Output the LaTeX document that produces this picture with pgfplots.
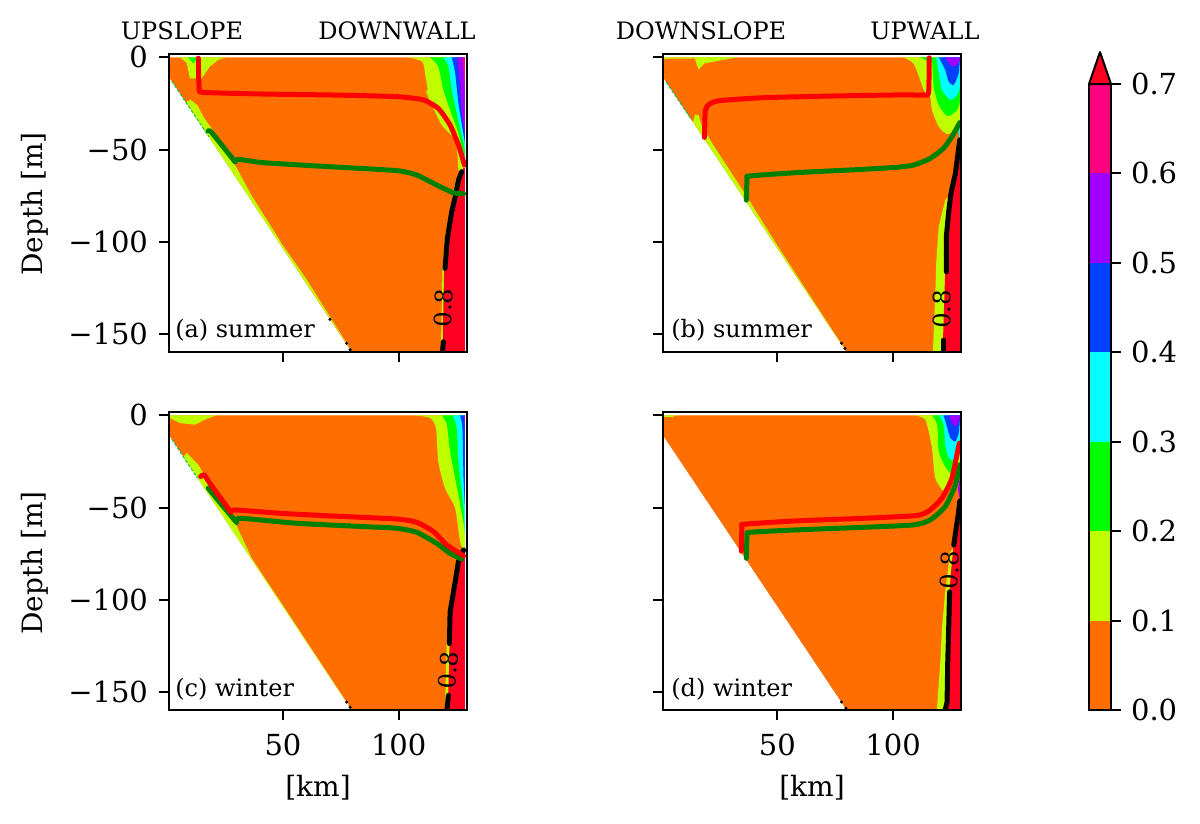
\documentclass[border=0pt]{standalone}
\usepackage{fontspec}
\setmainfont{DejaVu Serif}
\usepackage{pgfplots}
\pgfplotsset{compat=1.18}

\definecolor{c0}{HTML}{FF6E00}
\definecolor{c1}{HTML}{BFFF00}
\definecolor{c2}{HTML}{00FF00}
\definecolor{c3}{HTML}{00FFFF}
\definecolor{c4}{HTML}{0040FF}
\definecolor{c5}{HTML}{A000FF}
\definecolor{c6}{HTML}{FF0080}
\definecolor{c7}{HTML}{FF0020}
\definecolor{mld}{HTML}{FF0000}
\definecolor{bld}{HTML}{008000}

\newcommand{\tickfont}{\fontsize{14.5}{17}\selectfont}
\newcommand{\labfont}{\fontsize{14}{17}\selectfont}
\newcommand{\notefont}{\fontsize{12}{14}\selectfont}

\tikzset{note/.style={font=\notefont, anchor=base west, inner sep=0pt}}
\pgfplotsset{
  panel/.style={
    scale only axis, width=149pt, height=149pt, anchor=south west,
    xmin=0.75, xmax=129.5, ymin=-159.7, ymax=1.8,
    axis on top, axis line style={line width=1pt},
    tick style={line width=1pt, black}, major tick length=5pt, tick align=outside,
    xtick={50,100}, ytick={-150,-100,-50,0},
    xtick pos=bottom, ytick pos=left,
    tick label style={font=\tickfont},
    xticklabel shift=3.5pt, yticklabel shift=2pt,
    xticklabels={}, yticklabels={},
  },
  xlab/.style={xticklabels={50,100}},
  ylab/.style={yticklabels={−150,−100,−50,0}},
  area/.style={draw=none, fill=#1, forget plot},
  band/.style={draw=none, fill=#1, forget plot, smooth, tension=0.4},
  mline/.style={line width=2.5pt, color=mld, line join=round, line cap=round, smooth, tension=0.35},
  bline/.style={line width=2.5pt, color=bld, line join=round, line cap=round, smooth, tension=0.35},
  cont/.style={line width=2.5pt, color=black, line join=round, line cap=round},
  speck/.style={only marks, mark=*, mark size=0.55pt, color=black},
  edge/.style={line width=0.5pt, color=c2!70!c4, dashed, dash pattern=on 1.5pt off 1pt},
}
% white strip above the surface and behind the wall
\newcommand{\maskedges}[1]{%
  \addplot[area=white] coordinates {(0.75,0)(129.5,0)(129.5,1.8)(0.75,1.8)} -- cycle;
  \addplot[area=white] coordinates {(#1,1.8)(129.5,1.8)(129.5,-159.7)(#1,-159.7)} -- cycle;
}

\begin{document}
\begin{tikzpicture}
\useasboundingbox (0pt,0pt) rectangle (600pt,412pt);

% (a)
\begin{axis}[panel, ylab, at={(84.5pt,236pt)}]
\addplot[area=c0] coordinates {(1.15,0)(128.7,0)(128.7,-159.7)(79.7,-159.7)(1.15,-11.4)} -- cycle;
\addplot[area=c1] coordinates {(5.5,0)(8.4,-3)(9.8,-11.4)(14.8,-11.4)(18.4,-5)(22,-1.4)(25.6,0)} -- cycle;
\addplot[area=c2] coordinates {(9.1,0)(11.2,-3.3)(13.4,0)} -- cycle;
\addplot[area=c1] coordinates {(8,-24.3)(10,-23)(13,-26)(16,-33)(24,-47)(30,-60)(36,-74)(50,-102)(60,-120)(79.9,-159.7)(50,-103.6)(35,-75.3)(20,-47)} -- cycle;
\addplot[edge] coordinates {(2,-13)(8,-24.3)(18,-43)};
% bands at the wall
\addplot[band=c1] coordinates {(104.2,0)(110.2,-2.3)(111.4,-8.7)(112.5,-17.7)(111.8,-18.6)(114.3,-25.8)(118.6,-36.7)(124.4,-44.8)(125.5,-55)(126,-62)(128.7,-62)(128.7,0)} -- cycle;
\addplot[band=c2] coordinates {(113.5,0)(117.1,-5)(119.3,-17.7)(122.2,-28.6)(125.8,-41.2)(128.4,-54.8)(128.7,-54.8)(128.7,0)} -- cycle;
\addplot[band=c3] coordinates {(119.3,0)(121.5,-5)(122.9,-17.7)(125.1,-30.4)(128,-46.6)(128.7,-46.6)(128.7,0)} -- cycle;
\addplot[band=c4] coordinates {(122.9,0)(124.4,-8.7)(125.8,-24.9)(128.4,-44.8)(128.7,-44.8)(128.7,0)} -- cycle;
\addplot[band=c5] coordinates {(125.1,0)(126.2,-12.3)(127.2,-30.4)(128.4,-39.4)(128.7,-39.4)(128.7,0)} -- cycle;
\addplot[band=c6] coordinates {(127.7,0)(128.4,-12.3)(128.7,-21.3)(128.7,0)} -- cycle;
\addplot[area=c1] coordinates {(126.8,-60)(124.6,-66.5)(122.2,-82.8)(120,-97.2)(118.9,-115.3)(118.6,-135.2)(118.2,-159.7)(119.2,-159.7)(122,-100)(126,-66)} -- cycle;
\addplot[area=c7] coordinates {(128,-60)(125.8,-66.5)(122.9,-82.8)(120.7,-97.2)(119.6,-115.3)(119.3,-135.2)(118.9,-159.7)(128.7,-159.7)(128.7,-60)} -- cycle;
\maskedges{128.7}
\addplot[cont] coordinates {(127.2,-62)(125.8,-66.5)(124.4,-75.5)(122.9,-83.7)(121,-98.1)(120,-114.4)};
\addplot[cont] coordinates {(119.3,-154.2)(118.9,-159.7)};
\addplot[speck] coordinates {(70.3,-142)(77.5,-155)(79,-158.5)};
\addplot[bline] coordinates {(17.7,-39.9)(19.2,-40.8)(29.3,-56.6)};
\addplot[bline] coordinates {(29.3,-56.6)(30.7,-55.3)(41.5,-57.1)(70.3,-59.3)(99.1,-61.4)(107.8,-63.8)(116.4,-69.2)(123.6,-73.4)(128,-73.9)};
\addplot[mline] coordinates {(13.4,-0.5)(13.8,-16.8)(15.6,-19)(41.5,-19.9)(70.3,-20.4)(99.1,-21.3)(110.7,-23.1)(117.1,-27.7)(122.2,-36.7)(125.8,-47.5)(128.4,-58.4)};
\node[note] at (axis cs:3.3,-151.8) {(a) summer};
\node[font=\notefont, rotate=88] at (axis cs:119.3,-135.7) {0.8};
\end{axis}

% (b)
\begin{axis}[panel, at={(331.7pt,236pt)}]
\addplot[area=c0] coordinates {(0.87,0)(128.8,0)(128.8,-159.7)(79.9,-159.7)(0.87,-11.4)} -- cycle;
\addplot[area=c1] coordinates {(14.2,0)(15.9,-6.5)(18.5,-3.3)(32.2,0)} -- cycle;
\addplot[area=c1] coordinates {(1,0)(32,0)(32,-0.4)(1,-0.8)} -- cycle;
\addplot[area=c1] coordinates {(13.5,-35)(14.5,-31)(16,-31.5)(17,-36)(22,-47)(29,-60.5)(36,-74)(50,-102)(79.9,-159.7)(50,-103.5)(30,-66)} -- cycle;
\addplot[edge] coordinates {(2,-13.5)(8,-24.7)(13,-34)};
\addplot[band=c1] coordinates {(104.5,0)(108.8,-3.3)(111.7,-12.3)(113.9,-19.5)(116,-21)(116.8,-28.6)(119.7,-37.6)(123.3,-41.6)(126.9,-39.4)(128.8,-34)(128.8,0)} -- cycle;
\addplot[band=c2] coordinates {(111.5,0)(115,-2)(116.8,-3)(117.5,-15.9)(119.7,-25.8)(123.3,-31.8)(126.9,-29.5)(128.8,-24)(128.8,0)} -- cycle;
\addplot[band=c3] coordinates {(118.6,0)(119.7,-8.7)(121.1,-17.7)(124.7,-23.1)(127.6,-20.4)(128.8,-15.9)(128.8,0)} -- cycle;
\addplot[band=c4] coordinates {(119.7,0)(122.5,-6.9)(124,-13.2)(126.2,-15)(128.3,-8.7)(128.8,-1.4)(128.8,0)} -- cycle;
\addplot[band=c5] coordinates {(122.5,0)(124.7,-4.2)(126.9,-5)(128.6,-2.3)(128.8,0)} -- cycle;
\addplot[area=c3] coordinates {(128.8,-35)(128.3,-40)(128.8,-46)} -- cycle;
\addplot[area=c1] coordinates {(125,-73.7)(122.5,-77.4)(119.7,-91.8)(118.6,-111.7)(118.2,-129.8)(117.2,-159.7)(122,-159.7)(124,-83.7)} -- cycle;
\addplot[area=c7] coordinates {(128.8,-44.8)(126.9,-62.9)(125,-73.7)(124,-83.7)(123,-97.2)(122.5,-116)(122,-135)(121.4,-159.7)(128.8,-159.7)} -- cycle;
\maskedges{128.8}
\addplot[cont] coordinates {(128.8,-44.8)(126.9,-62.9)(125,-73.7)(124,-83.7)(123,-97.2)(123,-116.2)};
\addplot[cont] coordinates {(121.8,-153.3)(121.8,-159.7)};
\addplot[speck] coordinates {(77.7,-155)(79.2,-157.8)};
\addplot[bline] coordinates {(36.6,-77.4)(36.9,-65.6)(38,-64.3)(58.2,-62.5)(87.1,-60.7)(101.6,-59.6)(108.8,-58.4)(116,-54.8)(121.8,-49.3)(125.4,-43)(128.8,-35.4)};
\addplot[mline] coordinates {(18.5,-43.4)(18.9,-28.6)(20.7,-25.3)(25,-23.5)(43.8,-21.9)(72.7,-21)(101.6,-20.4)(113.2,-20.4)(115.3,-19.2)(115.6,-0.3)};
\node[note] at (axis cs:4,-151.8) {(b) summer};
\node[font=\notefont, rotate=88] at (axis cs:121.1,-136.6) {0.8};
\end{axis}

% (c)
\begin{axis}[panel, xlab, ylab, at={(84.5pt,57pt)}]
\addplot[area=c0] coordinates {(1.15,0)(128.7,0)(128.7,-159.7)(79.7,-159.7)(1.15,-11.4)} -- cycle;
\addplot[area=c1] coordinates {(1.15,0)(1.15,-1.5)(5.5,-4.2)(12,-5.1)(16.3,-2.3)(21.3,0)} -- cycle;
\addplot[area=c1] coordinates {(7,-22.5)(8.4,-20.5)(13.4,-26.8)(18.4,-37.7)(27.1,-52.2)(36.5,-77.5)(50,-103)(79.7,-159.7)(50,-103.7)(30,-66)(13.4,-34.6)} -- cycle;
\addplot[edge] coordinates {(2,-13)(8,-24.5)(13,-34)};
\addplot[band=c1] coordinates {(106.3,0)(113.5,-1.4)(116.1,-6.9)(117.1,-25)(120,-39.5)(124.4,-50.4)(126.5,-68.5)(128.4,-74)(128.7,-74)(128.7,0)} -- cycle;
\addplot[band=c2] coordinates {(118.6,0)(120.8,-5)(122.2,-19.6)(125.8,-43.1)(128.4,-61.2)(128.7,-61.2)(128.7,0)} -- cycle;
\addplot[band=c3] coordinates {(123.3,0)(125.1,-6.9)(125.8,-25)(128,-50.4)(128.7,-65)(128.7,0)} -- cycle;
\addplot[band=c4] coordinates {(126.5,0)(127.5,-6.9)(128,-34)(128.7,-48.6)(128.7,0)} -- cycle;
\addplot[band=c5] coordinates {(128,0)(128.5,-5)(128.7,-16)(128.7,0)} -- cycle;
\addplot[area=c1] coordinates {(126,-74)(124.5,-85)(122,-100)(120.7,-125)(120,-159.7)(121,-159.7)(122,-124)(125,-85)} -- cycle;
\addplot[area=c7] coordinates {(128.5,-74)(125.8,-79.3)(124.8,-90.2)(122.8,-106.5)(122,-124)(121.5,-152)(120.8,-159.7)(128.7,-159.7)(128.7,-74)} -- cycle;
\maskedges{128.7}
\addplot[cont] coordinates {(128,-73)(125.8,-79.3)(124.4,-90.2)(122.2,-106.5)(121.9,-123.7)};
\addplot[cont] coordinates {(121.5,-151.8)(120.8,-159.7)};
\addplot[speck] coordinates {(77.5,-155.4)(79,-158.2)};
\addplot[bline] coordinates {(17.7,-39.5)(27.8,-54.9)(30,-58)};
\addplot[bline] coordinates {(30,-58)(31.4,-55.8)(55.9,-58.5)(84.7,-60.3)(99.1,-61.2)(107.8,-63.4)(116.4,-69.4)(122.2,-74.8)(127.2,-77.9)};
\addplot[mline] coordinates {(14.4,-33.2)(15.9,-32.2)(18.4,-36.8)(27.5,-52.5)};
\addplot[mline] coordinates {(27.5,-52.5)(29.3,-51.3)(48.7,-53.1)(70.3,-54.5)(99.1,-56.2)(107.8,-58)(115,-63)(120.8,-70.3)(128,-76.1)};
\node[note] at (axis cs:3.3,-152.4) {(c) winter};
\node[font=\notefont, rotate=86] at (axis cs:121.5,-138.2) {0.8};
\end{axis}

% (d)
\begin{axis}[panel, xlab, at={(331.7pt,57pt)}]
\addplot[area=c0] coordinates {(0.87,0)(128.8,0)(128.8,-159.7)(79.9,-159.7)(0.87,-11.4)} -- cycle;
\addplot[area=c1] coordinates {(0.87,0)(0.87,-0.8)(5,-0.8)(6,0)} -- cycle;
\addplot[band=c1] coordinates {(108.8,0)(113.9,-2.4)(116.8,-17.8)(118.2,-34)(122.5,-42.2)(124.7,-38.6)(126.9,-33.2)(128.8,-25)(128.8,0)} -- cycle;
\addplot[band=c2] coordinates {(116.8,0)(119,-5)(119.7,-19.6)(122.5,-27.7)(125.4,-31.9)(127.6,-25.9)(128.8,-19.6)(128.8,0)} -- cycle;
\addplot[band=c3] coordinates {(119.7,0)(121.8,-5)(122.5,-15.9)(124,-23.2)(126.9,-24.1)(128.8,-14.1)(128.8,0)} -- cycle;
\addplot[band=c4] coordinates {(121.8,0)(123,-5)(124.7,-12.3)(126.9,-14.1)(128.3,-9.6)(128.8,-3.3)(128.8,0)} -- cycle;
\addplot[band=c5] coordinates {(124,0)(125.4,-4.2)(127.3,-6)(128.8,-1.4)(128.8,0)} -- cycle;
\addplot[area=c5] coordinates {(128.8,-34)(128,-40)(128.8,-46)} -- cycle;
\addplot[area=c1] coordinates {(126,-72)(124.7,-73.9)(122.5,-95.7)(121.1,-115.6)(120.4,-133.7)(118.9,-159.7)(122.5,-159.7)(124.4,-95.7)} -- cycle;
\addplot[area=c7] coordinates {(128.8,-46)(128.3,-52)(126.2,-70.3)(125,-85)(124.4,-95.7)(124,-115.6)(123.6,-133.7)(123.3,-155.4)(122.5,-159.7)(128.8,-159.7)} -- cycle;
\maskedges{128.8}
\addplot[cont] coordinates {(128.8,-46.4)(128.3,-52.2)(126.2,-70.3)};
\addplot[cont] coordinates {(124.4,-95.7)(124,-115.6)(123.6,-133.7)(123.3,-155.4)(122.5,-159.7)};
\addplot[speck] coordinates {(77.7,-155.4)(79.6,-158.7)};
\addplot[bline] coordinates {(36.6,-77.5)(36.9,-64.9)(38,-63.4)(58.2,-62.1)(87.1,-60.7)(108.8,-59.4)(116,-56.7)(122.5,-49.5)(126.9,-37.7)(128.8,-26.8)};
\addplot[mline] coordinates {(34.4,-73.6)(34.7,-60.3)(35.8,-59)(58.2,-57.2)(87.1,-55.8)(110.3,-54.3)(116,-51.3)(121.1,-44.9)(125.4,-34.1)(128.3,-16.8)(128.8,-15)};
\node[note] at (axis cs:4,-152.4) {(d) winter};
\node[font=\notefont, rotate=88] at (axis cs:124.4,-83.9) {0.8};
\end{axis}

% colour bar
\begin{axis}[
  scale only axis, width=11pt, height=313pt, anchor=south west, at={(544.5pt,57pt)},
  xmin=0, xmax=1, ymin=0, ymax=0.7, xtick=\empty,
  ytick={0,0.1,0.2,0.3,0.4,0.5,0.6,0.7},
  yticklabels={0.0,0.1,0.2,0.3,0.4,0.5,0.6,0.7},
  ytick pos=right, yticklabel pos=right, tick align=outside,
  axis on top, axis line style={line width=1pt},
  tick style={line width=1pt, black}, major tick length=5pt,
  tick label style={font=\tickfont}, yticklabel shift=1.5pt, clip=false,
]
\addplot[area=c0] coordinates {(0,0)(1,0)(1,0.1)(0,0.1)} -- cycle;
\addplot[area=c1] coordinates {(0,0.1)(1,0.1)(1,0.2)(0,0.2)} -- cycle;
\addplot[area=c2] coordinates {(0,0.2)(1,0.2)(1,0.3)(0,0.3)} -- cycle;
\addplot[area=c3] coordinates {(0,0.3)(1,0.3)(1,0.4)(0,0.4)} -- cycle;
\addplot[area=c4] coordinates {(0,0.4)(1,0.4)(1,0.5)(0,0.5)} -- cycle;
\addplot[area=c5] coordinates {(0,0.5)(1,0.5)(1,0.6)(0,0.6)} -- cycle;
\addplot[area=c6] coordinates {(0,0.6)(1,0.6)(1,0.7)(0,0.7)} -- cycle;
\addplot[draw=black, line width=1pt, fill=c7, line join=round, forget plot] coordinates {(0,0.7)(0.5,0.7358)(1,0.7)} -- cycle;
\end{axis}

% labels
\node[font=\labfont, rotate=90] at (17.5pt,310pt) {Depth [m]};
\node[font=\labfont, rotate=90] at (17.5pt,130.5pt) {Depth [m]};
\node[font=\labfont] at (159pt,18pt) {[km]};
\node[font=\labfont] at (406pt,18pt) {[km]};
\node[font=\notefont] at (91pt,396.5pt) {UPSLOPE};
\node[font=\notefont] at (198.5pt,396.5pt) {DOWNWALL};
\node[font=\notefont] at (350.5pt,396.5pt) {DOWNSLOPE};
\node[font=\notefont] at (462.5pt,396.5pt) {UPWALL};
\end{tikzpicture}
\end{document}
